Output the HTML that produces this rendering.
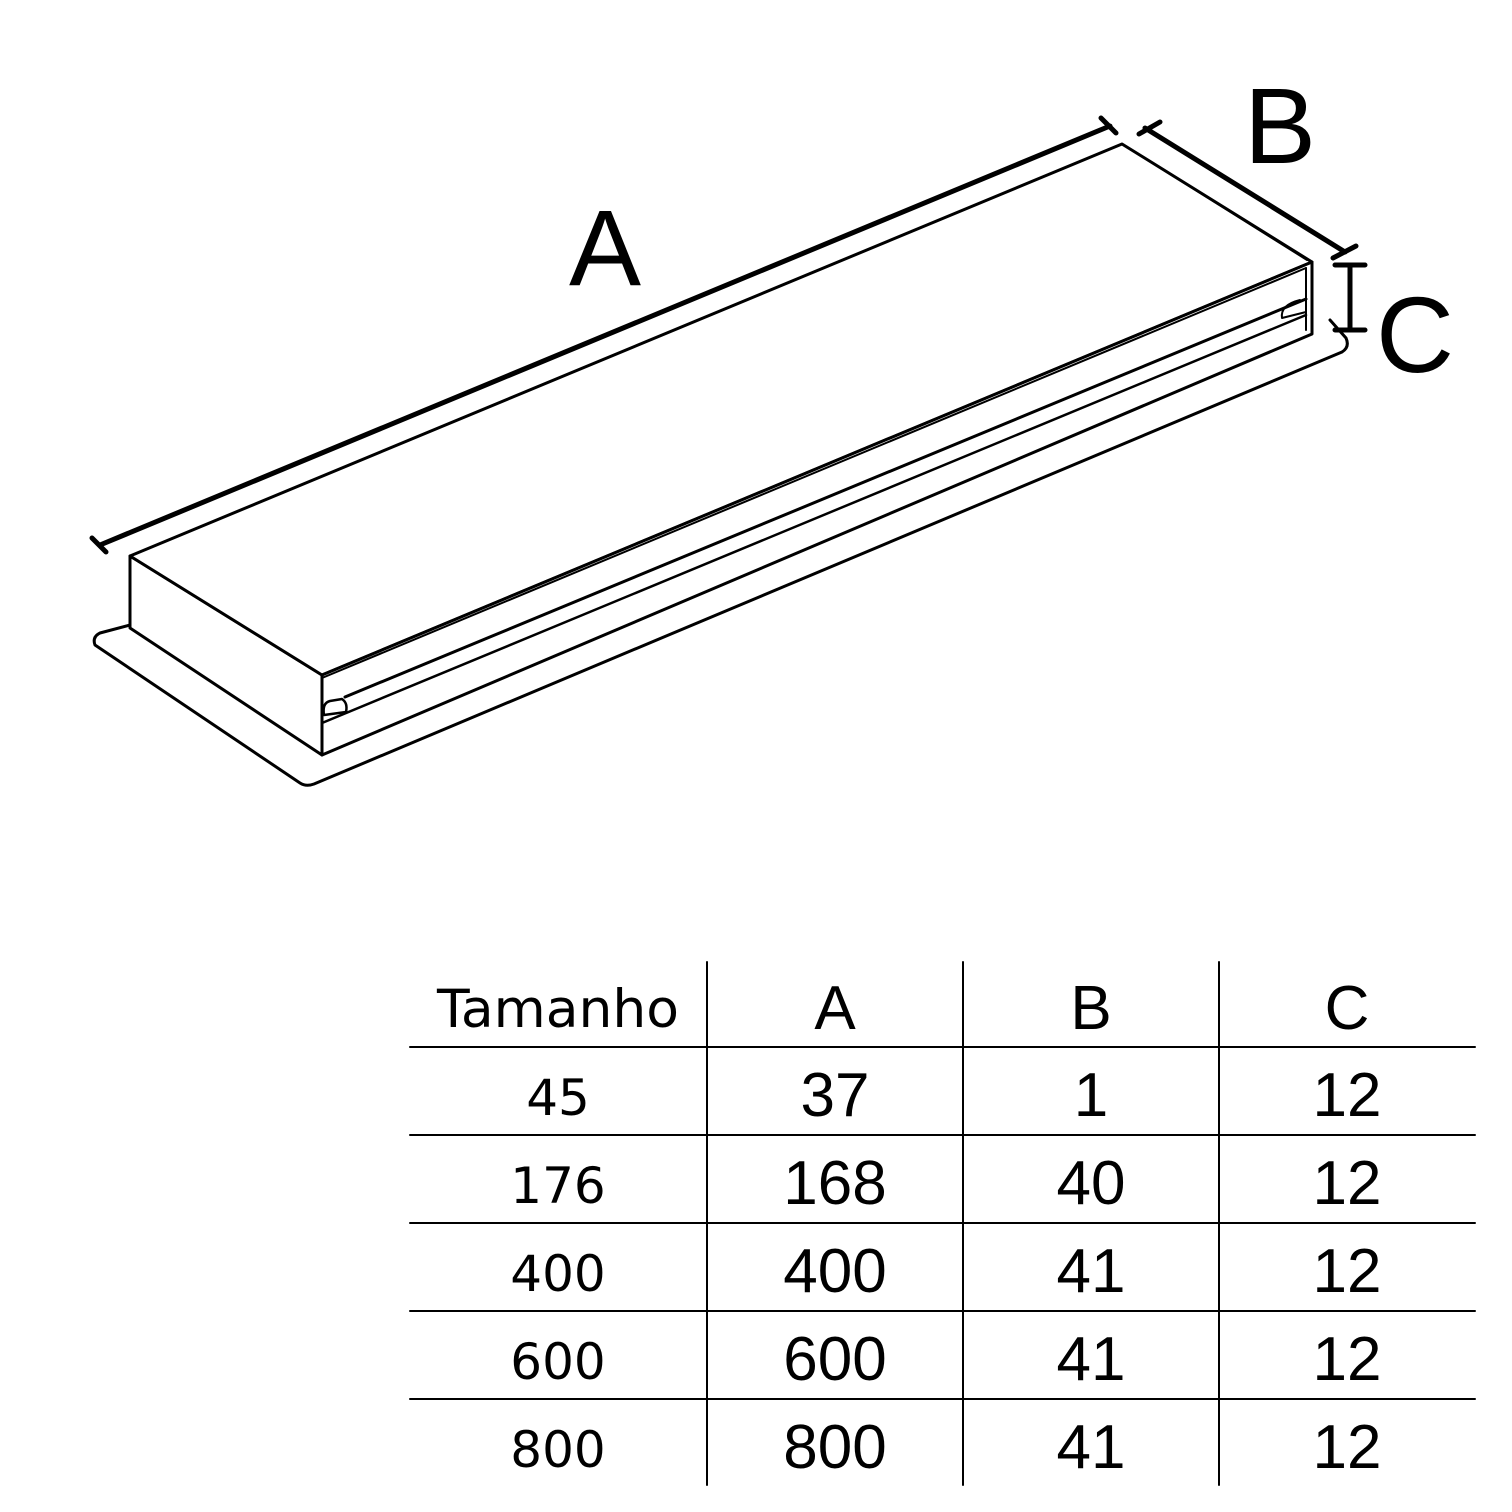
<!DOCTYPE html>
<html><head><style>body{margin:0;background:#fff}svg{display:block}</style></head><body>
<svg width="1512" height="1512" viewBox="0 0 1512 1512" xmlns="http://www.w3.org/2000/svg">
<g fill="none" stroke="#000" stroke-linejoin="round" stroke-linecap="round">
<!-- base plate -->
<path d="M130,625 L100,633 Q92,637 95,645 L300,783 Q306,787 314,784 L1342,352 Q1350,347 1346,338 L1330,320" stroke-width="3" fill="#fff"/>
<!-- box -->
<path d="M130,556 L322,675 L322,755 L130,628 Z" stroke-width="3" fill="#fff"/>
<path d="M130,556 L1122,144 L1312,262 L322,675 Z" stroke-width="3" fill="#fff"/>
<path d="M322,675 L1312,262 L1312,334 L322,755 Z" stroke-width="3" fill="#fff"/>
<path d="M1127,147 L1307,260" stroke-width="2"/>
<path d="M1306,268 L1306,330" stroke-width="2"/>
<path d="M322,678 L1306,268" stroke-width="2"/>
<path d="M345,697 L1306,299" stroke-width="3"/>
<path d="M322,723 L1306,315" stroke-width="2.5"/>
<path d="M324,715 Q322,703 330,701 L342,699 Q348,703 346,712 Z" stroke-width="2.5"/>
<path d="M1300,300 Q1280,305 1282,318 L1306,312" stroke-width="2"/>
<!-- dimension A -->
<path d="M100,545 L1110,126" stroke-width="5"/>
<path d="M92,538 L106,552 M1101,118 L1116,133" stroke-width="5"/>
<!-- dimension B -->
<path d="M1145,128 L1345,252" stroke-width="5"/>
<path d="M1139,134 L1160,122 M1333,258 L1356,246" stroke-width="5"/>
<!-- dimension C -->
<path d="M1350,265 L1350,330 M1335,265 L1365,265 M1335,330 L1365,330" stroke-width="5"/>
<!-- table -->
<path d="M707,962 V1485 M963,962 V1485 M1219,962 V1485" stroke-width="2"/>
<path d="M410,1047 H1475 M410,1135 H1475 M410,1223 H1475 M410,1311 H1475 M410,1399 H1475" stroke-width="2"/>
</g>
<g font-family="Liberation Sans, sans-serif" fill="#000" text-anchor="middle">
<text x="605" y="285" font-size="108">A</text>
<text x="1280" y="163" font-size="108">B</text>
<text x="1415" y="372" font-size="108">C</text>
<g font-family="DejaVu Sans, sans-serif" font-size="50">
<text x="558" y="1027" font-size="53" textLength="242" lengthAdjust="spacingAndGlyphs">Tamanho</text>
<text x="558" y="1115">45</text>
<text x="558" y="1203">176</text>
<text x="558" y="1291">400</text>
<text x="558" y="1379">600</text>
<text x="558" y="1467">800</text>
</g>
<g font-size="62">
<text x="835" y="1029">A</text><text x="1091" y="1029">B</text><text x="1347" y="1029">C</text>
<text x="835" y="1116">37</text><text x="1091" y="1116">1</text><text x="1347" y="1116">12</text>
<text x="835" y="1204">168</text><text x="1091" y="1204">40</text><text x="1347" y="1204">12</text>
<text x="835" y="1292">400</text><text x="1091" y="1292">41</text><text x="1347" y="1292">12</text>
<text x="835" y="1380">600</text><text x="1091" y="1380">41</text><text x="1347" y="1380">12</text>
<text x="835" y="1468">800</text><text x="1091" y="1468">41</text><text x="1347" y="1468">12</text>
</g>
</g>
</svg>
</body></html>
